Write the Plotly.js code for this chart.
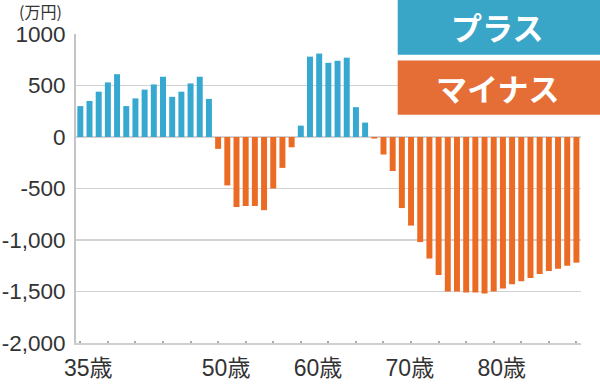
<!DOCTYPE html>
<html>
<head>
<meta charset="utf-8">
<script src="https://cdn.plot.ly/plotly-3.0.1.min.js"></script>
<style>html,body{margin:0;padding:0;background:#fff}#chart{width:600px;height:388px}</style>
</head>
<body>
<div id="chart"></div>
<script>
const ages = [];
for (let a = 35; a <= 89; a++) ages.push(a);
const balance = [
  300, 350, 440, 530, 610, 300, 375, 460, 510, 585, 390, 440, 520, 585, 370,
  -115, -470, -680, -670, -670, -710, -500, -300, -100,
  110, 780, 810, 720, 740, 770, 290, 140,
  -15, -170, -330, -690, -860, -1020, -1180, -1340, -1500, -1500, -1510, -1510, -1520,
  -1500, -1470, -1430, -1400, -1370, -1330, -1300, -1280, -1250, -1220
];
const yTickVals = [-2000, -1500, -1000, -500, 0, 500, 1000];
const yTickText = ['-2,000', '-1,500', '-1,000', '-500', '0', '500', '1000'];
const xTickVals = [35, 50, 60, 70, 80];
const xTickText = ['35歳', '50歳', '60歳', '70歳', '80歳'];
const legendLabels = ['プラス', 'マイナス'];
const unitLabel = '(万円)';

const BLUE = '#37a8cf', ORANGE = '#ec6b24';
const FONT = 'Liberation Sans, Arial, Noto Sans CJK JP, sans-serif';

const trace = {
  type: 'bar',
  x: ages,
  y: balance,
  width: 0.65,
  marker: {color: balance.map(v => v >= 0 ? BLUE : ORANGE), line: {width: 0}},
  hoverinfo: 'x+y'
};

const layout = {
  width: 600, height: 388,
  margin: {l: 76, r: 19, t: 34, b: 45},
  paper_bgcolor: '#fff', plot_bgcolor: '#fff',
  showlegend: false,
  bargap: 0.3,
  xaxis: {
    range: [34.53, 89.5],
    tickmode: 'array', tickvals: xTickVals, ticktext: xTickText,
    ticks: '', ticklabelshift: 8, ticklabelstandoff: 3,
    tickfont: {family: FONT, size: 23, color: '#333'},
    showgrid: false, zeroline: false,
    showline: true, linecolor: '#cfcfcf', linewidth: 2,
    minor: {tickmode: 'linear', tick0: 35, dtick: 3, ticks: 'inside', ticklen: 2, tickwidth: 2, tickcolor: '#aaa', showgrid: false},
    fixedrange: true
  },
  yaxis: {
    range: [-2000, 1000],
    tickmode: 'array', tickvals: yTickVals, ticktext: yTickText,
    ticks: '', ticklabelstandoff: 4,
    tickfont: {family: FONT, size: 22.5, color: '#333'},
    showgrid: true, gridcolor: '#d2d2d2', gridwidth: 1.5,
    zeroline: false,
    showline: true, linecolor: '#c4c4c4', linewidth: 2,
    fixedrange: true
  },
  shapes: [
    {type: 'rect', xref: 'paper', yref: 'paper', x0: 0.637, x1: 1.04, y0: 0.933, y1: 1.12, fillcolor: '#3aa6c7', line: {width: 0}, layer: 'above'},
    {type: 'rect', xref: 'paper', yref: 'paper', x0: 0.637, x1: 1.04, y0: 0.739, y1: 0.914, fillcolor: '#e46e36', line: {width: 0}, layer: 'above'}
  ],
  annotations: [
    {xref: 'paper', yref: 'paper', x: 0.834, y: 1.025, text: '<b>' + legendLabels[0] + '</b>', showarrow: false, xanchor: 'center', yanchor: 'middle', font: {family: 'Noto Sans CJK JP', size: 31, color: '#fff'}},
    {xref: 'paper', yref: 'paper', x: 0.834, y: 0.826, text: '<b>' + legendLabels[1] + '</b>', showarrow: false, xanchor: 'center', yanchor: 'middle', font: {family: 'Noto Sans CJK JP', size: 31, color: '#fff'}},
    {xref: 'paper', yref: 'paper', x: -0.071, y: 1.074, text: unitLabel, showarrow: false, xanchor: 'center', yanchor: 'middle', font: {family: 'Noto Sans CJK JP', size: 16, color: '#333'}}
  ]
};

Plotly.newPlot('chart', [trace], layout, {displayModeBar: false, staticPlot: true});
</script>
</body>
</html>
